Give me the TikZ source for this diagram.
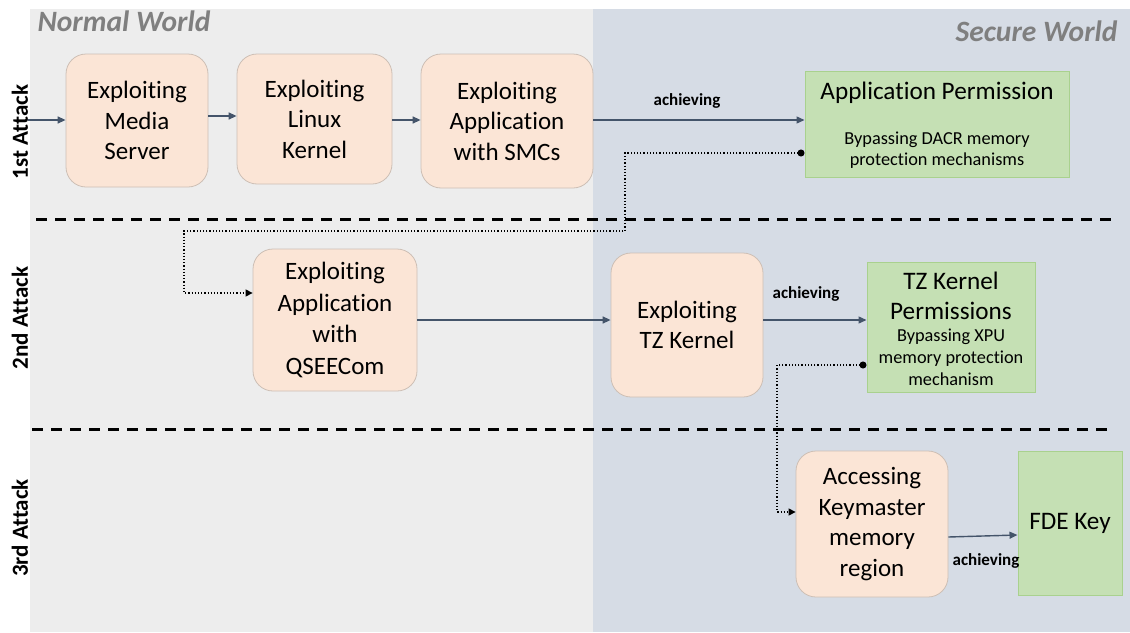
\documentclass[tikz,border=0pt]{standalone}
\usepackage{fontspec}
\setmainfont{Carlito}[Ligatures=NoCommon]
\usetikzlibrary{arrows.meta}
\definecolor{normalbg}{HTML}{EDEDED}
\definecolor{securebg}{HTML}{D6DCE5}
\definecolor{peach}{HTML}{FBE5D6}
\definecolor{peachline}{HTML}{CDBFB5}
\definecolor{greenfill}{HTML}{C5E0B4}
\definecolor{greenline}{HTML}{A9D18E}
\definecolor{arrowcol}{HTML}{44546A}
\definecolor{worldgray}{HTML}{7F7F7F}
\tikzset{
 stepbox/.style={draw=peachline, fill=peach, rounded corners=20pt, line width=0.8pt, align=center, font=\fontsize{25}{30.5}\selectfont, inner sep=0pt},
 resbox/.style={draw=greenline, fill=greenfill, line width=1pt, inner sep=0pt},
 flow/.style={draw=arrowcol, line width=1.4pt, -{Triangle[length=8pt,width=7pt]}},
 jump/.style={draw=black, line width=1.2pt, dotted, {Circle[length=7pt]}-{Triangle[length=7pt,width=7pt]}},
 sep/.style={draw=black, line width=3pt, dash pattern=on 11pt off 8pt},
 achlabel/.style={font=\bfseries\fontsize{17}{20}\selectfont},
 attacklabel/.style={font=\bfseries\fontsize{23}{26}\selectfont, rotate=90},
 worldlabel/.style={font=\bfseries\itshape\fontsize{29.5}{32}\selectfont, text=worldgray},
 bigtext/.style={font=\fontsize{25.2}{30}\selectfont, align=center},
 smalltext/.style={font=\fontsize{18.3}{21}\selectfont, align=center},
}
\begin{document}
\begin{tikzpicture}[x=1pt,y=-1pt]
\useasboundingbox (0,0) rectangle (1130,632);
% backgrounds
\fill[normalbg] (30,9) rectangle (593,632);
\fill[securebg] (593,9) rectangle (1130,632);
\node[worldlabel, anchor=base west] (nw) at (34,31) {Normal World};
\node[worldlabel, anchor=base east] (sw) at (1121,41) {Secure World};
% separators
\draw[sep] (36,219) -- (1113,219);
\draw[sep] (32,429) -- (1107,429);
% attack labels
\node[attacklabel] (a1) at (20,132) {1st Attack};
\node[attacklabel] (a2) at (20,318) {2nd Attack};
\node[attacklabel] (a3) at (20,528) {3rd Attack};
% row 1
\node[stepbox, minimum width=142pt, minimum height=133pt] (media) at (137,120.5) {Exploiting\\Media\\Server};
\node[stepbox, minimum width=155pt, minimum height=130pt] (linux) at (314.5,119) {Exploiting\\Linux\\Kernel};
\node[stepbox, minimum width=172pt, minimum height=134pt] (smc) at (507,121) {Exploiting\\Application\\with SMCs};
\node[resbox, minimum width=264pt, minimum height=106pt] (apperm) at (937,124) {};
\node[bigtext] (appt) at (937,93) {Application Permission};
\node[smalltext] (apps) at (937,150) {Bypassing DACR memory\\protection mechanisms};
\coordinate (start) at (28,120);
\draw[flow] (start) -- (media.west |- 0,120);
\draw[flow] (media.east |- 0,116) -- (linux.west |- 0,116);
\draw[flow] (linux.east |- 0,120) -- (smc.west |- 0,120);
\draw[flow] (smc.east |- 0,120) -- (apperm.west |- 0,120);
\node[achlabel] (ach1) at (687,101) {achieving};
% row 2
\node[stepbox, minimum width=164pt, minimum height=142pt, font=\fontsize{25}{31.5}\selectfont] (qsee) at (335,320) {Exploiting\\Application\\with\\QSEECom};
\node[stepbox, minimum width=152pt, minimum height=144pt] (tzk) at (687,325) {Exploiting\\TZ Kernel};
\node[resbox, minimum width=168pt, minimum height=130pt] (tzperm) at (951,327) {};
\node[bigtext] (tzt) at (951,296) {TZ Kernel\\Permissions};
\node[smalltext, font=\fontsize{18.3}{22}\selectfont] (tzs) at (951,357) {Bypassing XPU\\memory protection\\mechanism};
\draw[flow] (qsee.east |- 0,320) -- (tzk.west |- 0,320);
\draw[flow] (tzk.east |- 0,320) -- (tzperm.west |- 0,320);
\node[achlabel] (ach2) at (806,294) {achieving};
\draw[jump] (apperm.west |- 0,153) -- (625,153) -- (625,231) -- (184,231) -- (184,293) -- (qsee.west |- 0,293);
% row 3
\node[stepbox, minimum width=152pt, minimum height=146pt] (keym) at (872,524) {Accessing\\Keymaster\\memory\\region};
\node[resbox, minimum width=104pt, minimum height=144pt, font=\fontsize{25.2}{30}\selectfont] (fde) at (1070,523) {FDE Key};
\draw[flow] (keym.east |- 0,537) -- (fde.west |- 0,535);
\node[achlabel] (ach3) at (986,561) {achieving};
\draw[jump] (tzperm.west |- 0,365) -- (777,365) -- (777,512) -- (keym.west |- 0,512);
\end{tikzpicture}
\end{document}
